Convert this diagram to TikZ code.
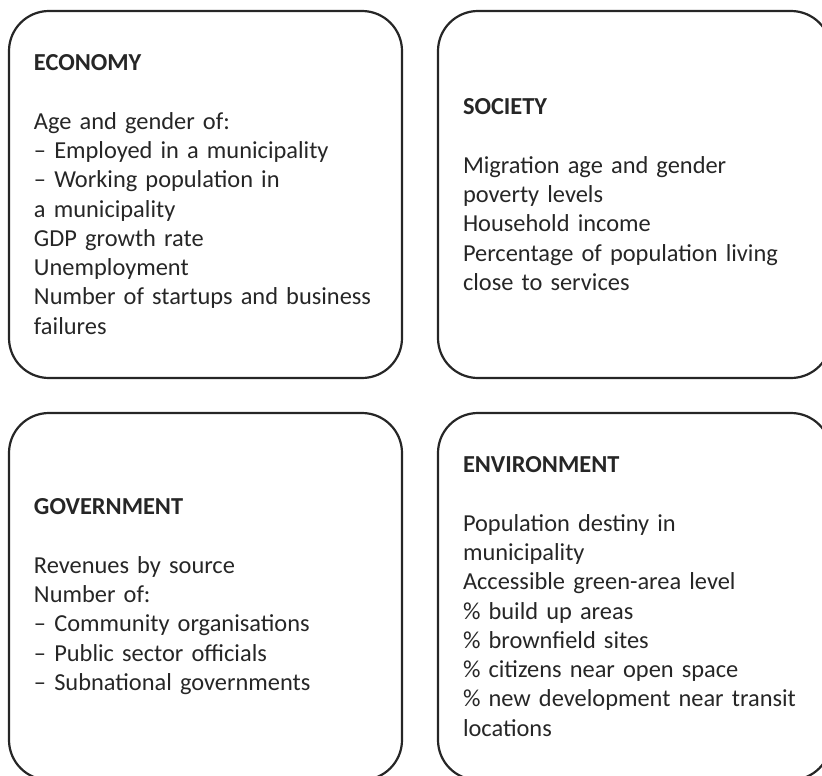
\documentclass[tikz,border=0pt]{standalone}
\usepackage{fontspec}
\setmainfont{Carlito}
\begin{document}
\begin{tikzpicture}[x=1pt,y=-1pt,
  box/.style={draw=black!85, line width=2.2pt, rounded corners=40pt,
    minimum width=393pt, minimum height=367pt, inner xsep=25pt, inner ysep=0pt,
    text width=343pt, align=left, text=black!85,
    font=\fontsize{24.4}{29.3}\selectfont}]
\useasboundingbox (0,0) rectangle (822,776);
\clip (0,0) rectangle (822,776);
\node[box] (econ) at (205.5,194.5) {\textbf{ECONOMY}\\[29.3pt]
Age and gender of:\\
– Employed in a municipality\\
– Working population in\\
a municipality\\
GDP growth rate\\
Unemployment\\
Number of startups and business\\
failures};
\node[box] (soc) at (634.5,194.5) {\textbf{SOCIETY}\\[29.3pt]
Migration age and gender\\
poverty levels\\
Household income\\
Percentage of population living\\
close to services};
\node[box] (gov) at (205.5,596.5) {\textbf{GOVERNMENT}\\[29.3pt]
Revenues by source\\
Number of:\\
– Community organisations\\
– Public sector officials\\
– Subnational governments};
\node[box] (env) at (634.5,596.5) {\textbf{ENVIRONMENT}\\[29.3pt]
Population destiny in\\
municipality\\
Accessible green-area level\\
\% build up areas\\
\% brownfield sites\\
\% citizens near open space\\
\% new development near transit\\
locations};
\end{tikzpicture}
\end{document}
